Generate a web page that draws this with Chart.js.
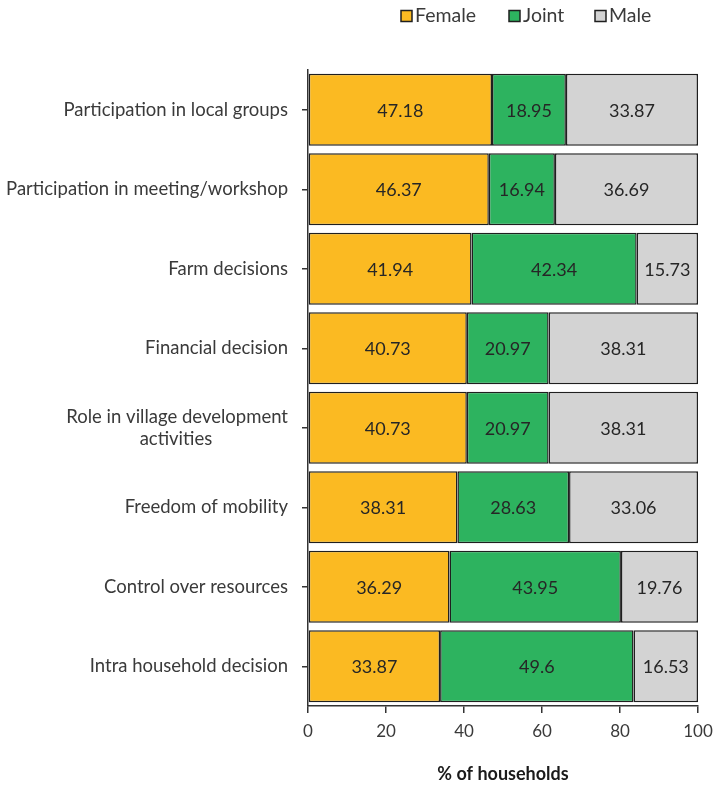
<!DOCTYPE html>
<html>
<head>
<meta charset="utf-8">
<script src="https://cdn.jsdelivr.net/npm/chart.js@4/dist/chart.umd.min.js"></script>
<style>
  html, body { margin: 0; padding: 0; background: #ffffff; }
  #wrap { width: 715px; height: 791px; position: relative; }
</style>
</head>
<body>
<div id="wrap"><canvas id="chart" width="715" height="791"></canvas></div>
<script>
// Decision-making roles by household member (% of households)
const categories = [
  "Participation in local groups",
  "Participation in meeting/workshop",
  "Farm decisions",
  "Financial decision",
  ["Role in village development", "activities"],
  "Freedom of mobility",
  "Control over resources",
  "Intra household decision"
];
const seriesNames = ["Female", "Joint", "Male"];
const female = [47.18, 46.37, 41.94, 40.73, 40.73, 38.31, 36.29, 33.87];
const joint  = [18.95, 16.94, 42.34, 20.97, 20.97, 28.63, 43.95, 49.6];
const male   = [33.87, 36.69, 15.73, 38.31, 38.31, 33.06, 19.76, 16.53];
const xTicks = [0, 20, 40, 60, 80, 100];
const axisTitle = "% of households";

const FONT = "Lato, 'Open Sans', sans-serif";
const colors = ["#FBBA22", "#2DB35F", "#D3D3D3"];
const edge = "#1f1f1f";
const textColor = "#3a3a3a";
const Y_SIZE = 18.5;

// Pad shorter lines of a multi-line label so every line shares one centre
// when the axis draws them right-aligned.
const measureCtx = document.createElement("canvas").getContext("2d");
function centreLines(lines, font) {
  measureCtx.font = font;
  const widths = lines.map(l => measureCtx.measureText(l).width);
  const maxW = Math.max(...widths);
  const sp = measureCtx.measureText(" ").width;
  return lines.map((l, i) => {
    const n = Math.round((maxW - widths[i]) / 2 / sp);
    return l + " ".repeat(n);
  });
}
const yFont = { family: FONT, size: Y_SIZE };
const yLabels = categories.map(c => Array.isArray(c) ? centreLines(c, Y_SIZE + "px " + FONT) : c);

// Value labels centred in each segment
const valueLabels = {
  id: "valueLabels",
  afterDatasetsDraw(chart) {
    const ctx = chart.ctx;
    ctx.save();
    ctx.font = "18px " + FONT;
    ctx.fillStyle = "#262626";
    ctx.textAlign = "center";
    ctx.textBaseline = "middle";
    chart.data.datasets.forEach((ds, di) => {
      const meta = chart.getDatasetMeta(di);
      meta.data.forEach((bar, i) => {
        const p = bar.getCenterPoint();
        ctx.fillText(String(ds.data[i]), p.x, p.y + 1);
      });
    });
    ctx.restore();
  }
};

// Legend row above the plot
const topLegend = {
  id: "topLegend",
  afterDraw(chart) {
    const ctx = chart.ctx;
    ctx.save();
    ctx.font = "19.5px " + FONT;
    ctx.textBaseline = "middle";
    ctx.textAlign = "left";
    const starts = [401, 509, 595];
    const y = 16;
    chart.data.datasets.forEach((ds, i) => {
      const x = starts[i];
      ctx.fillStyle = ds.backgroundColor;
      ctx.fillRect(x, y - 5.5, 11, 11);
      ctx.strokeStyle = edge;
      ctx.lineWidth = 1.5;
      ctx.strokeRect(x, y - 5.5, 11, 11);
      ctx.fillStyle = textColor;
      ctx.fillText(ds.label, x + 14, y);
    });
    ctx.restore();
  }
};

const seriesData = [female, joint, male];
new Chart(document.getElementById("chart"), {
  type: "bar",
  data: {
    labels: yLabels,
    datasets: seriesNames.map((name, i) => ({
      label: name,
      data: seriesData[i],
      backgroundColor: colors[i],
      borderColor: edge,
      borderWidth: 1.5,
      borderSkipped: false,
      categoryPercentage: 0.905,
      barPercentage: 1
    }))
  },
  options: {
    indexAxis: "y",
    responsive: false,
    animation: false,
    layout: { padding: { top: 70, right: 17, left: 0, bottom: 0 } },
    plugins: {
      legend: { display: false },
      tooltip: { enabled: false }
    },
    scales: {
      x: {
        stacked: true,
        min: 0,
        max: 100,
        afterBuildTicks(scale) { scale.ticks = xTicks.map(v => ({ value: v })); },
        afterFit(scale) { scale.height = 85; scale.paddingRight = 0; scale.paddingLeft = 0; },
        grid: { display: true, drawOnChartArea: false, drawTicks: true, tickLength: 7, color: "#333", lineWidth: 1.5 },
        border: { display: true, color: "#333", width: 1.5 },
        ticks: { color: textColor, font: { family: FONT, size: 17 }, padding: 8 },
        title: {
          display: true,
          text: axisTitle,
          color: "#1a1a1a",
          font: { family: FONT, size: 18, weight: "bold" },
          padding: { top: 0, bottom: 6 }
        }
      },
      y: {
        stacked: true,
        afterFit(scale) { scale.width = 308; },
        grid: { display: true, offset: false, drawOnChartArea: false, drawTicks: true, tickLength: 6, color: "#333", lineWidth: 1.5 },
        border: { display: true, color: "#333", width: 1.5 },
        ticks: { color: textColor, font: yFont, padding: 14, autoSkip: false }
      }
    }
  },
  plugins: [valueLabels, topLegend]
});
</script>
</body>
</html>
